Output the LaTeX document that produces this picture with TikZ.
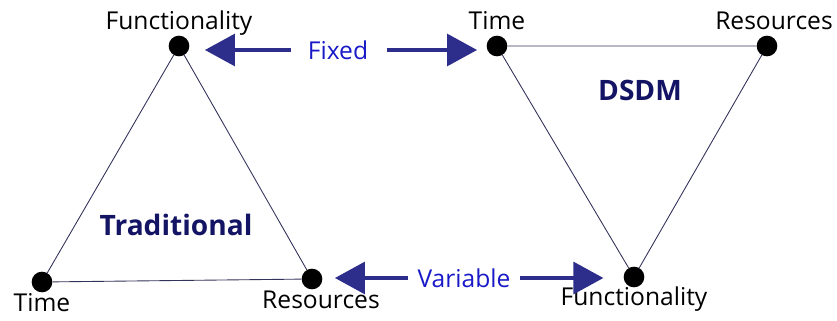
\documentclass[tikz,border=0pt]{standalone}
\usepackage{fontspec}
\setmainfont{Open Sans}
\usetikzlibrary{arrows.meta,positioning}
\definecolor{navy}{RGB}{20,20,100}
\definecolor{arrowblue}{RGB}{45,45,140}
\definecolor{textblue}{RGB}{25,25,200}
\definecolor{edgegray}{RGB}{50,50,90}

\begin{document}
\begin{tikzpicture}[
		x=0.03cm, y=-0.03cm,
		every node/.style = {font=\fontsize{21}{24}\selectfont},
		dot/.style = {circle, fill=black, inner sep=0pt, minimum size=0.62cm},
		vertex/.style = {inner sep=0pt, text height=0.72em, text depth=0.2em},
		side/.style = {draw=edgegray, line width=0.75pt},
		bigarrow/.style = {draw=arrowblue, line width=1.2mm, -{Triangle[length=0.9cm, width=0.95cm]}},
		title/.style = {text=navy, font=\fontsize{24}{26}\selectfont\bfseries}
		]
		\useasboundingbox (0,0) rectangle (837,321);

		% Traditional triangle -------------------------------------------
		\node[dot] (tf) at (179,46)  {};
		\node[dot] (tt) at (42,282)  {};
		\node[dot] (tr) at (312,279) {};
		\node[vertex, above=0.09cm of tf] {Functionality};
		\node[vertex, below=0.3cm of tt] {Time};
		\node[vertex, below=0.3cm of tr, xshift=0.27cm] {Resources};
		\node[title] (trad) at (176,225) {Traditional};
		\draw[side] (tf) -- (tt) -- (tr) -- (tf);

		% DSDM triangle --------------------------------------------------
		\node[dot] (dt) at (497,46)  {};
		\node[dot] (dr) at (767,46)  {};
		\node[dot] (df) at (634,277) {};
		\node[vertex, above=0.09cm of dt] {Time};
		\node[vertex, above=0.09cm of dr, xshift=0.21cm] {Resources};
		\node[vertex, below=0.27cm of df] {Functionality};
		\node[title] (dsdm) at (640,90) {DSDM};
		\draw[side] (dt) -- (dr) -- (df) -- (dt);

		% Arrows ---------------------------------------------------------
		\node[text=textblue, inner sep=0pt] (fixed) at (338,50) {Fixed};
		\node[text=textblue, inner sep=0pt] (variable) at (464,278) {Variable};
		\draw[bigarrow, shorten <=0.5cm, shorten >=0.46cm] (fixed.west) -- (tf.east |- fixed.west);
		\draw[bigarrow, shorten <=0.55cm, shorten >=0.28cm] (fixed.east) -- (dt.west |- fixed.east);
		\draw[bigarrow, shorten <=0.27cm, shorten >=0.37cm] (variable.west) -- (tr.east |- variable.west);
		\draw[bigarrow, shorten <=0.27cm, shorten >=0.6cm] (variable.east) -- (df.west |- variable.east);
	\end{tikzpicture}
\end{document}
